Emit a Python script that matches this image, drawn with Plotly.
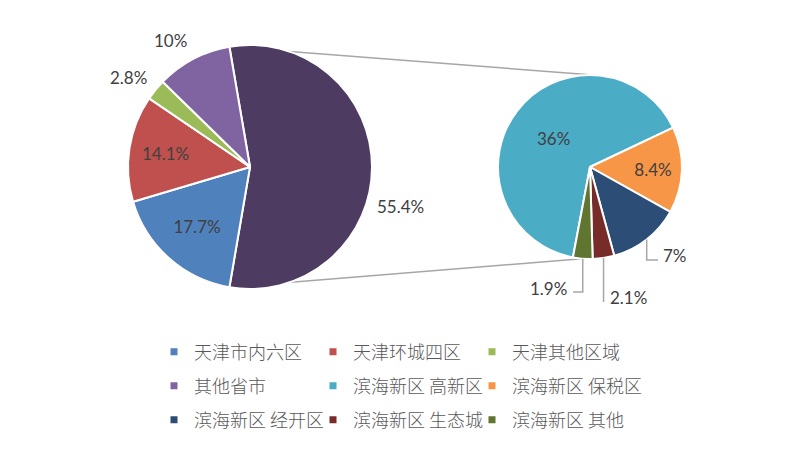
import math
import plotly.graph_objects as go

# ---------------- data ----------------
main_labels = ["天津市内六区", "天津环城四区", "天津其他区域", "其他省市"]
main_values = [17.7, 14.1, 2.8, 10.0]
main_colors = ["#4F81BD", "#C0504D", "#9BBB59", "#8064A2"]
other_color = "#4E3B62"

sub_labels = ["滨海新区 高新区", "滨海新区 保税区", "滨海新区 经开区", "滨海新区 生态城", "滨海新区 其他"]
sub_values = [36.0, 8.4, 7.0, 2.1, 1.9]
sub_colors = ["#4BACC6", "#F79646", "#2C4D75", "#772C2A", "#5F7530"]

legend_rows = [
    ["天津市内六区", "天津环城四区", "天津其他区域"],
    ["其他省市", "滨海新区 高新区", "滨海新区 保税区"],
    ["滨海新区 经开区", "滨海新区 生态城", "滨海新区 其他"],
]

# ---------------- layout geometry (pixels) ----------------
W, H = 810, 450
main_c, main_r = (250, 167), 122
sub_c, sub_r = (590, 167), 92
GRAY = "#A6A6A6"
TXT = "#404040"


def fmt(v):
    return f"{round(v, 1):g}%"


other_val = round(sum(sub_values), 1)
pie1_vals = [other_val] + main_values
pie1_cols = [other_color] + main_colors
pie1_text = [fmt(v) for v in pie1_vals]
# inside labels drawn by the pie; outside ones placed as in the original (best fit)
pie1_pos = ["none", "inside", "inside", "none", "none"]

other_span = other_val / sum(pie1_vals) * 360
rot1 = 90 - other_span / 2          # "other" slice centred at 3 o'clock
rot2 = -169.3

pie2_text = [fmt(v) for v in sub_values]
pie2_pos = ["inside", "inside", "none", "none", "none"]

# outside label placement (pixels): pie, slice index -> (x, y, xanchor, leader path points)
label_style = {
    (1, 0): dict(x=375, y=207, xa="left", leader=None),
    (1, 3): dict(x=149, y=77, xa="right", leader=None),
    (1, 4): dict(x=189, y=40, xa="right", leader=None),
    (2, 2): dict(x=661, y=255, xa="left", leader=[("V", 260), ("H", 658)]),
    (2, 3): dict(x=608, y=297, xa="left", leader=[("V", 302)]),
    (2, 4): dict(x=569, y=288, xa="right", leader=[("V", 292), ("H", 573)]),
}


def dom(c, r):
    return dict(x=[(c[0] - r) / W, (c[0] + r) / W],
                y=[1 - (c[1] + r) / H, 1 - (c[1] - r) / H])


def pt(c, r, ang_deg):
    a = math.radians(ang_deg)
    return (c[0] + r * math.sin(a), c[1] - r * math.cos(a))


def px(x, y):
    return x / W, 1 - y / H


label_font = dict(family="Lato, Open Sans, sans-serif", size=17, color=TXT)

fig = go.Figure()
fig.add_trace(go.Pie(
    values=pie1_vals, labels=["滨海新区"] + main_labels, text=pie1_text,
    textinfo="text", textposition=pie1_pos, insidetextorientation="horizontal",
    sort=False, direction="clockwise", rotation=rot1,
    marker=dict(colors=pie1_cols, line=dict(color="white", width=2)),
    domain=dom(main_c, main_r), showlegend=False,
    insidetextfont=label_font, outsidetextfont=label_font,
    hoverinfo="label+value",
))
fig.add_trace(go.Pie(
    values=sub_values, labels=sub_labels, text=pie2_text,
    textinfo="text", textposition=pie2_pos, insidetextorientation="horizontal",
    sort=False, direction="clockwise", rotation=rot2,
    marker=dict(colors=sub_colors, line=dict(color="white", width=2)),
    domain=dom(sub_c, sub_r), showlegend=False,
    insidetextfont=label_font, outsidetextfont=label_font,
    hoverinfo="label+value",
))

# connector lines between the "other" slice and the secondary pie
p_top = pt(main_c, main_r, rot1)
p_bot = pt(main_c, main_r, rot1 + other_span)
q_top = pt(sub_c, sub_r, 2)
q_bot = pt(sub_c, sub_r, 185)
for a, b in [(p_top, q_top), (p_bot, q_bot)]:
    x0, y0 = px(*a)
    x1, y1 = px(*b)
    fig.add_shape(type="line", xref="paper", yref="paper", layer="below",
                  x0=x0, y0=y0, x1=x1, y1=y1, line=dict(color=GRAY, width=1.5))

# outside labels (+ leader lines)
pies = {1: (pie1_vals, pie1_text, main_c, main_r, rot1),
        2: (sub_values, pie2_text, sub_c, sub_r, rot2)}
for (pid, idx), st in label_style.items():
    vals, texts, c, r, rot = pies[pid]
    tot = sum(vals)
    start = rot + sum(vals[:idx]) / tot * 360
    mid = start + vals[idx] / tot * 360 / 2
    ax, ay = px(st["x"], st["y"])
    fig.add_annotation(x=ax, y=ay, xref="paper", yref="paper", text=texts[idx],
                       showarrow=False, xanchor=st["xa"], yanchor="middle",
                       font=label_font)
    if st["leader"]:
        sx, sy = pt(c, r, mid)
        path_pts = [(sx, sy)]
        cx_, cy_ = sx, sy
        for kind, v in st["leader"]:
            if kind == "V":
                cy_ = v
            else:
                cx_ = v
            path_pts.append((cx_, cy_))
        d = ""
        for i, (x, y) in enumerate(path_pts):
            X, Y = px(x, y)
            d += ("M" if i == 0 else "L") + f"{X:.5f},{Y:.5f} "
        fig.add_shape(type="path", path=d.strip(), xref="paper", yref="paper",
                      line=dict(color=GRAY, width=1.5), layer="above")

# legend (dummy traces, three rows)
color_of = dict(zip(main_labels + sub_labels, main_colors + sub_colors))
legend_names = ["legend", "legend2", "legend3"]
row_y = [352, 386, 420]
for ri, row in enumerate(legend_rows):
    for name in row:
        fig.add_trace(go.Scatter(
            x=[None], y=[None], mode="markers", name=name,
            marker=dict(symbol="square", size=7, color=color_of[name]),
            legend=legend_names[ri], showlegend=True, hoverinfo="skip",
        ))
    # invisible spacer so the last entry is not clipped by the legend box
    fig.add_trace(go.Scatter(
        x=[None], y=[None], mode="markers", name=" ",
        marker=dict(symbol="square", size=7, color="rgba(0,0,0,0)"),
        legend=legend_names[ri], showlegend=True, hoverinfo="skip",
    ))

leg_common = dict(orientation="h", xanchor="left", yanchor="middle",
                  x=154 / W, entrywidth=114, entrywidthmode="pixels",
                  bgcolor="rgba(0,0,0,0)", borderwidth=0,
                  font=dict(family="Noto Sans CJK SC", size=18, color="#595959", weight=300),
                  itemclick=False, itemdoubleclick=False)

fig.update_layout(
    width=W, height=H,
    margin=dict(l=0, r=0, t=0, b=0),
    paper_bgcolor="white", plot_bgcolor="white",
    xaxis=dict(visible=False), yaxis=dict(visible=False),
    legend=dict(leg_common, y=1 - row_y[0] / H),
    legend2=dict(leg_common, y=1 - row_y[1] / H),
    legend3=dict(leg_common, y=1 - row_y[2] / H),
)

fig.write_html("out.html")
